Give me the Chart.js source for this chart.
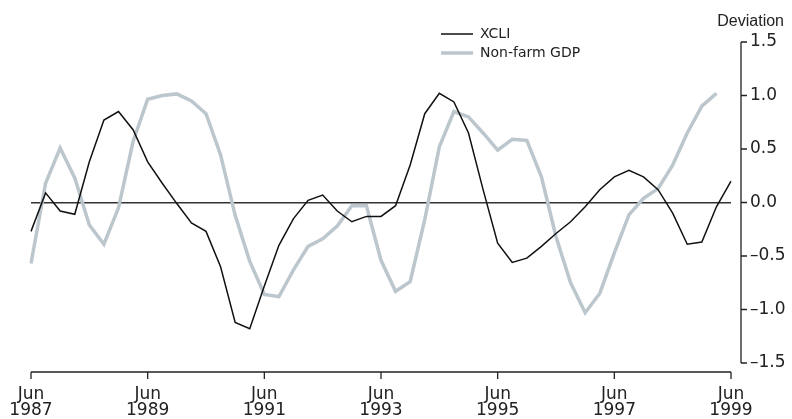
<!DOCTYPE html>
<html>
<head>
<meta charset="utf-8">
<script src="https://cdn.jsdelivr.net/npm/chart.js@4"></script>
<style>
  html, body { margin: 0; padding: 0; background: #fff; }
  #wrap { width: 792px; height: 419px; }
</style>
</head>
<body>
<div id="wrap"><canvas id="myChart" width="792" height="419"></canvas></div>
<script>
// quarterly, Jun 1987 .. Jun 1999
const months = ["Jun", "Sep", "Dec", "Mar"];
const quarters = [];
for (let i = 0; i <= 48; i++) {
  let year = 1987 + Math.floor((i + 2) / 4);
  quarters.push(months[i % 4] + " " + year);
}

const xcli = [
  -0.27, 0.09, -0.08, -0.11, 0.38, 0.77, 0.85, 0.68,
  0.38, 0.18, -0.01, -0.19, -0.27, -0.6, -1.12, -1.18,
  -0.78, -0.4, -0.15, 0.02, 0.07, -0.08, -0.18, -0.13,
  -0.13, -0.03, 0.35, 0.83, 1.02, 0.94, 0.65, 0.12,
  -0.38, -0.56, -0.52, -0.41, -0.29, -0.18, -0.04, 0.12,
  0.24, 0.3, 0.24, 0.12, -0.1, -0.39, -0.37, -0.04,
  0.2
];

const gdp = [
  -0.57, 0.18, 0.51, 0.23, -0.21, -0.39, -0.05, 0.57,
  0.965, 1.0, 1.015, 0.95, 0.83, 0.445, -0.12, -0.55,
  -0.86, -0.88, -0.63, -0.41, -0.34, -0.22, -0.03, -0.03,
  -0.54, -0.83, -0.74, -0.16, 0.52, 0.85, 0.8, 0.65,
  0.49, 0.59, 0.58, 0.24, -0.32, -0.75, -1.03, -0.85,
  -0.47, -0.115, 0.04, 0.13, 0.35, 0.65, 0.9, 1.02,
  null
];

const yTicks = [-1.5, -1.0, -0.5, 0.0, 0.5, 1.0, 1.5];

const TICKFONT = "'DejaVu Sans', sans-serif";
const TEXTFONT = "'Liberation Sans', Arial, sans-serif";
const INK = "#222";

// axes sit a little away from the plot, plus legend and unit label
const extras = {
  id: "extras",
  afterDraw(chart) {
    const c = chart.ctx;
    const x = chart.scales.x;
    const y = chart.scales.y;
    const area = chart.chartArea;
    c.save();
    c.strokeStyle = INK;
    c.lineWidth = 1.3;

    // right axis
    let ax = area.right + 10;
    c.beginPath();
    c.moveTo(ax, y.getPixelForValue(1.5));
    c.lineTo(ax, y.getPixelForValue(-1.5));
    yTicks.forEach((v) => {
      let py = y.getPixelForValue(v);
      c.moveTo(ax, py);
      c.lineTo(ax + 6, py);
    });
    c.stroke();

    // bottom axis
    let ay = area.bottom + 9;
    c.beginPath();
    c.moveTo(x.getPixelForValue(0), ay);
    c.lineTo(x.getPixelForValue(48), ay);
    for (let i = 0; i <= 48; i += 8) {
      let px = x.getPixelForValue(i);
      c.moveTo(px, ay);
      c.lineTo(px, ay + 7);
    }
    c.stroke();

    // legend
    c.font = "14px " + TICKFONT;
    c.fillStyle = INK;
    c.textBaseline = "middle";
    chart.data.datasets.forEach((ds, k) => {
      let ly = 34 + k * 19;
      c.strokeStyle = ds.borderColor;
      c.lineWidth = ds.borderWidth;
      c.beginPath();
      c.moveTo(441, ly);
      c.lineTo(473, ly);
      c.stroke();
      c.fillText(ds.label, 480, ly);
    });

    c.textAlign = "right";
    c.font = "16px " + TEXTFONT;
    c.fillText("Deviation", 784, 22);
    c.restore();
  },
};

const ctx = document.getElementById("myChart");

new Chart(ctx, {
  type: "line",
  data: {
    labels: quarters,
    datasets: [
      {
        label: "XCLI",
        data: xcli,
        borderColor: "#111",
        borderWidth: 1.5,
        pointRadius: 0,
        tension: 0,
        order: 0,
      },
      {
        label: "Non-farm GDP",
        data: gdp,
        borderColor: "#bcc6cd",
        borderWidth: 3.5,
        pointRadius: 0,
        tension: 0,
        order: 1,
      },
    ],
  },
  options: {
    responsive: false,
    animation: false,
    layout: { padding: { left: 31, top: 42, right: 0, bottom: 0 } },
    plugins: {
      legend: { display: false },
      tooltip: { enabled: false },
    },
    scales: {
      x: {
        type: "category",
        offset: false,
        grid: { display: false, drawTicks: false },
        border: { display: false },
        afterFit: (s) => {
          s.height = 56;
          s.paddingLeft = 0;
          s.paddingRight = 0;
        },
        ticks: {
          autoSkip: false,
          maxRotation: 0,
          padding: 23,
          color: INK,
          font: { family: TICKFONT, size: 17, lineHeight: 0.98 },
          callback: function (val, i) {
            if (i % 8 !== 0) return "";
            let parts = quarters[i].split(" ");
            return [parts[0], parts[1]];
          },
        },
      },
      y: {
        position: "right",
        min: -1.5,
        max: 1.5,
        afterFit: (s) => {
          s.width = 61;
          s.paddingTop = 0;
          s.paddingBottom = 0;
        },
        afterBuildTicks: (s) => { s.ticks = yTicks.map((v) => ({ value: v })); },
        border: { display: false },
        grid: {
          drawTicks: false,
          lineWidth: 1.5,
          color: (c) => (c.tick && c.tick.value === 0 ? "#333" : "rgba(0,0,0,0)"),
        },
        ticks: {
          padding: 19,
          color: INK,
          font: { family: TICKFONT, size: 17 },
          callback: (v) => Number(v).toFixed(1).replace("-", "\u2013"),
        },
      },
    },
  },
  plugins: [extras],
});
</script>
</body>
</html>
